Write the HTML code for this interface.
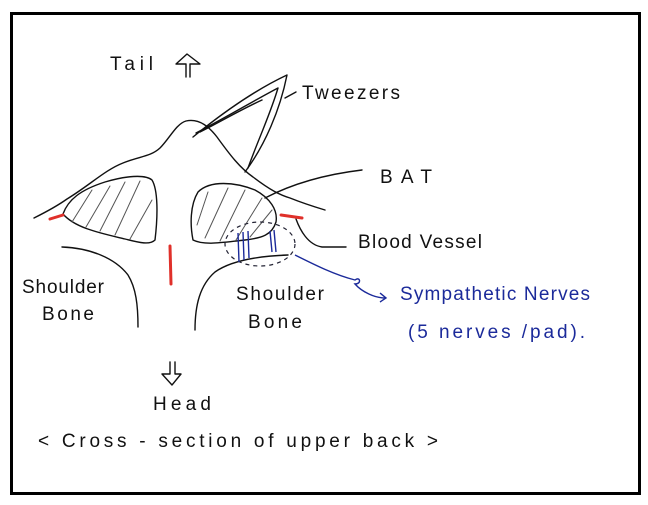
<!DOCTYPE html>
<html><head><style>
html,body{margin:0;padding:0;background:#fff;}
svg{display:block;}
text{font-family:"Liberation Sans",sans-serif;}
</style></head><body>
<svg width="648" height="505" viewBox="0 0 648 505" xmlns="http://www.w3.org/2000/svg">
<rect x="0" y="0" width="648" height="505" fill="#fff"/>
<rect x="11.5" y="13.5" width="628" height="480" fill="none" stroke="#000" stroke-width="3"/>
<g fill="none" stroke="#111" stroke-width="1.4" stroke-linecap="round" stroke-linejoin="round">
<path d="M34,218 C50,210 60,204 67,199 C90,185 105,170 123,163 C140,156 150,157 160,148 C170,138 176,124 186,121 C200,118 210,128 217,137 C230,155 240,168 253,177 C270,190 280,195 290,198 C305,204 315,207 325,210"/>
<path d="M63,214 C68,200 80,190 105,182 C125,176 145,174 152,180 C158,190 158,215 155,240 C150,245 140,243 125,239 C100,233 75,228 63,214 Z"/>
<path d="M193,240 C190,225 190,205 198,192 C210,180 235,182 255,190 C270,198 278,210 276,222 C272,235 262,238 245,240 C225,242 205,246 193,240 Z"/>
<path d="M193,137 C220,115 255,90 287,75 C280,110 265,145 245,172"/>
<path d="M196,133 C225,118 255,100 278,88 C270,115 258,140 248,168"/>
<path d="M200,132 C220,122 240,110 262,100"/>
<path d="M285,98 L296,92"/>
<path d="M265,198 C290,185 320,175 362,170"/>
<path d="M296,219 C300,230 308,245 322,247 L346,247"/>
<path d="M62,247 C90,248 115,258 128,275 C136,288 138,305 138,327"/>
<path d="M195,330 C195,305 200,285 215,272 C232,260 260,256 288,255"/>
<path d="M186,77 L186,64 L176,64 L187,54 L200,64 L190,64 L190,77"/>
<path d="M170,362 L170,374 L162,374 L172,385 L181,374 L175,374 L175,362"/>
</g>
<g fill="none" stroke="#555" stroke-width="1" stroke-linecap="round">
<path d="M72,222 L92,190 M86,227 L110,186 M100,231 L125,182 M115,235 L140,181 M130,239 L152,200"/>
<path d="M197,225 L208,192 M205,238 L228,188 M220,241 L245,190 M236,240 L262,198 M250,237 L272,210"/>
</g>
<g stroke="#e0302a" stroke-width="3" fill="none" stroke-linecap="round">
<path d="M50,219 L63,215"/>
<path d="M170,246 L171,284"/>
<path d="M281,215 L302,218"/>
</g>
<ellipse cx="260" cy="244" rx="35" ry="22" fill="none" stroke="#223" stroke-width="1.2" stroke-dasharray="4,4"/>
<g stroke="#1b2a9a" stroke-width="1.4" fill="none">
<path d="M238,233 L239,262 M243,232 L244,260 M248,231 L249,258 M270,231 L272,252 M274,230 L276,252"/>
<path d="M295,255 C315,265 335,275 355,280 C360,276 362,284 355,284 C362,292 375,298 385,298 M380,293 L386,298 L380,302"/>
</g>
<g font-size="19" fill="#111">
<text x="110" y="70" textLength="43">Tail</text>
<text x="302" y="99" textLength="98">Tweezers</text>
<text x="380" y="183" textLength="52">BAT</text>
<text x="358" y="248" textLength="124">Blood Vessel</text>
<text x="22" y="293" textLength="82">Shoulder</text>
<text x="42" y="320" textLength="52">Bone</text>
<text x="236" y="300" textLength="88">Shoulder</text>
<text x="248" y="328" textLength="54">Bone</text>
<text x="153" y="410" textLength="58">Head</text>
<text x="38" y="447" textLength="400">&lt; Cross - section  of  upper back &gt;</text>
</g>
<g font-size="19" fill="#1b2a9a">
<text x="400" y="300" textLength="190">Sympathetic  Nerves</text>
<text x="408" y="338" textLength="177">(5 nerves /pad).</text>
</g>
</svg>
</body></html>
